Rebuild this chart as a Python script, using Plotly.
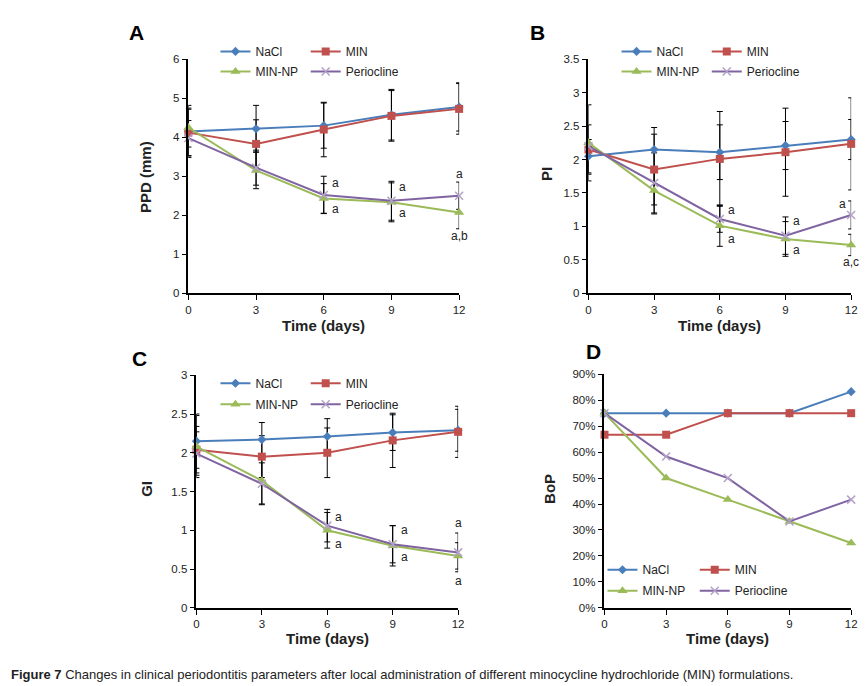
import plotly.graph_objects as go

W, H = 868, 686

days = [0, 3, 6, 9, 12]
series_names = ["NaCl", "MIN", "MIN-NP", "Periocline"]

# Panel A: PPD (mm)
ppd_nacl = [4.15, 4.22, 4.30, 4.58, 4.78]
ppd_min = [4.12, 3.83, 4.20, 4.55, 4.73]
ppd_minnp = [4.25, 3.15, 2.43, 2.33, 2.07]
ppd_perio = [3.98, 3.22, 2.52, 2.37, 2.50]
ppd_nacl_err = [0.67, 0.60, 0.58, 0.65, 0.62]
ppd_min_err = [0.60, 0.62, 0.70, 0.65, 0.65]
ppd_minnp_err = [0.50, 0.47, 0.38, 0.50, 0.42]
ppd_perio_err = [0.45, 0.45, 0.48, 0.50, 0.35]

# Panel B: PI
pi_nacl = [2.05, 2.15, 2.11, 2.21, 2.30]
pi_min = [2.15, 1.85, 2.01, 2.11, 2.235]
pi_minnp = [2.25, 1.535, 1.01, 0.81, 0.72]
pi_perio = [2.20, 1.65, 1.11, 0.86, 1.17]
pi_nacl_err = [0.25, 0.33, 0.41, 0.36, 0.30]
pi_min_err = [0.37, 0.53, 0.71, 0.66, 0.69]
pi_minnp_err = [0.57, 0.35, 0.31, 0.26, 0.16]
pi_perio_err = [0.10, 0.45, 0.20, 0.28, 0.21]

# Panel C: GI
gi_nacl = [2.15, 2.17, 2.21, 2.26, 2.29]
gi_min = [2.04, 1.95, 2.00, 2.16, 2.27]
gi_minnp = [2.08, 1.64, 1.00, 0.80, 0.67]
gi_perio = [1.99, 1.60, 1.06, 0.82, 0.715]
gi_nacl_err = [0.35, 0.22, 0.23, 0.23, 0.27]
gi_min_err = [0.30, 0.27, 0.32, 0.35, 0.33]
gi_minnp_err = [0.40, 0.30, 0.23, 0.26, 0.17]
gi_perio_err = [0.28, 0.27, 0.21, 0.24, 0.25]

# Panel D: BoP (%)
bop_nacl = [75.0, 75.0, 75.0, 75.0, 83.3]
bop_min = [66.7, 66.7, 75.0, 75.0, 75.0]
bop_minnp = [75.0, 50.0, 41.7, 33.3, 25.0]
bop_perio = [75.0, 58.3, 50.0, 33.3, 41.7]

# Significance letters (day, value, text, anchor)
sig_a = [(6, 2.83, "a", "left"), (6, 2.15, "a", "left"), (9, 2.73, "a", "left"),
         (9, 2.05, "a", "left"), (12, 3.06, "a", "center"), (12, 1.46, "a,b", "center")]
sig_b = [(6, 1.25, "a", "left"), (6, 0.81, "a", "left"), (9, 1.085, "a", "left"),
         (9, 0.645, "a", "left"), (12, 1.335, "a", "right"), (12, 0.46, "a,c", "center")]
sig_c = [(6, 1.17, "a", "left"), (6, 0.82, "a", "left"), (9, 1.00, "a", "left"),
         (9, 0.65, "a", "left"), (12, 1.10, "a", "center"), (12, 0.34, "a", "center")]

colors = {"NaCl": "#4A7EBB", "MIN": "#C0504D", "MIN-NP": "#9BBB59", "Periocline": "#8064A2"}
markers = {
    "NaCl": dict(symbol="diamond", size=7, color="#4A7EBB"),
    "MIN": dict(symbol="square", size=8, color="#C0504D"),
    "MIN-NP": dict(symbol="triangle-up", size=9, color="#9BBB59"),
    "Periocline": dict(symbol="x-thin", size=8, color="#B3A2C7",
                       line=dict(width=1.5, color="#B3A2C7")),
}

FONT = "Liberation Sans, Arial, sans-serif"

# the rendered page is shown slightly scaled; map target pixels to figure pixels
SX, BX = 0.987, 4.1
SY, BY = 0.980, 7.7

def px2x(p):
    return ((p - BX) / SX) / W

def px2y(p):
    return 1 - ((p - BY) / SY) / H

panels = [
    dict(key="", xdom=(189, 459), ydom=(61, 294), yr=[0, 6], dtick=1,
         data=[ppd_nacl, ppd_min, ppd_minnp, ppd_perio],
         err=[ppd_nacl_err, ppd_min_err, ppd_minnp_err, ppd_perio_err],
         sig=sig_a, ytitle="PPD (mm)", ytitle_pos=(146, 178), xtitle_y=326,
         letter="A", letter_pos=(137, 34),
         leg_text_x=(256, 346), leg_y=(53, 73), suffix=""),
    dict(key="2", xdom=(588, 850), ydom=(61, 294), yr=[0, 3.5], dtick=0.5,
         data=[pi_nacl, pi_min, pi_minnp, pi_perio],
         err=[pi_nacl_err, pi_min_err, pi_minnp_err, pi_perio_err],
         sig=sig_b, ytitle="PI", ytitle_pos=(546, 175), xtitle_y=326,
         letter="B", letter_pos=(537, 34),
         leg_text_x=(656, 746), leg_y=(53, 73), suffix=""),
    dict(key="3", xdom=(197, 458), ydom=(376, 608), yr=[0, 3], dtick=0.5,
         data=[gi_nacl, gi_min, gi_minnp, gi_perio],
         err=[gi_nacl_err, gi_min_err, gi_minnp_err, gi_perio_err],
         sig=sig_c, ytitle="GI", ytitle_pos=(147, 489), xtitle_y=639,
         letter="C", letter_pos=(140, 359),
         leg_text_x=(256, 346), leg_y=(384, 405), suffix=""),
    dict(key="4", xdom=(604, 850), ydom=(375, 608), yr=[0, 90], dtick=10,
         data=[bop_nacl, bop_min, bop_minnp, bop_perio],
         err=None, sig=[], ytitle="BoP", ytitle_pos=(549, 489), xtitle_y=639,
         letter="D", letter_pos=(593, 352),
         leg_text_x=(642, 734), leg_y=(570, 591), suffix="%"),
]

fig = go.Figure()
annotations = []
layout = {}
legend_count = 0

for p in panels:
    k = p["key"]
    xa, ya = "x" + k, "y" + k
    if p["err"] is not None:
        for i, name in enumerate(series_names):
            fig.add_trace(go.Scatter(
                x=days, y=p["data"][i], mode="markers",
                marker=dict(size=1, color="rgba(0,0,0,0)"),
                error_y=dict(type="data", array=p["err"][i], visible=True,
                             color="#000000", thickness=1, width=3),
                xaxis=xa, yaxis=ya, showlegend=False, hoverinfo="skip",
            ))
    for i, name in enumerate(series_names):
        legend_count += 1
        lname = "legend" if legend_count == 1 else f"legend{legend_count}"
        row = 0 if i < 2 else 1
        col = i % 2
        fig.add_trace(go.Scatter(
            x=days, y=p["data"][i], mode="lines+markers", name=name,
            line=dict(color=colors[name], width=2),
            marker=markers[name], xaxis=xa, yaxis=ya, cliponaxis=False,
            legend=lname, showlegend=True,
        ))
        layout[lname] = dict(
            x=px2x(p["leg_text_x"][col] - 40), y=px2y(p["leg_y"][row]),
            xanchor="left", yanchor="middle", orientation="v",
            bgcolor="rgba(0,0,0,0)", borderwidth=0,
            font=dict(family=FONT, size=12, color="#222"),
            tracegroupgap=0, itemclick=False,
        )
    axname_x = "xaxis" + k
    axname_y = "yaxis" + k
    layout[axname_x] = dict(
        domain=[px2x(p["xdom"][0]), px2x(p["xdom"][1])], range=[0, 12],
        tickmode="array", tickvals=days, ticktext=[str(d) for d in days],
        showline=True, linecolor="#000", linewidth=1.5, ticks="outside",
        ticklen=5, tickcolor="#000", showgrid=False, zeroline=False,
        anchor=ya, tickfont=dict(family=FONT, size=11.5, color="#222"),
        fixedrange=True,
    )
    layout[axname_y] = dict(
        domain=[px2y(p["ydom"][1]), px2y(p["ydom"][0])], range=p["yr"],
        dtick=p["dtick"], tick0=0, showline=True, linecolor="#000", linewidth=1.5,
        ticks="outside", ticklen=5, tickcolor="#000", showgrid=False,
        zeroline=False, anchor=xa, ticksuffix=p["suffix"],
        tickfont=dict(family=FONT, size=11.5, color="#222"), fixedrange=True,
    )
    for (d, v, t, anc) in p["sig"]:
        shift = 6 if anc == "left" else (-3 if anc == "right" else 0)
        annotations.append(dict(
            x=d, y=v, xref=xa, yref=ya, text=t, showarrow=False,
            xanchor=anc, yanchor="middle", xshift=shift,
            font=dict(family=FONT, size=12, color="#222"),
        ))
    xc = (p["xdom"][0] + p["xdom"][1]) / 2
    annotations.append(dict(
        x=px2x(xc), y=px2y(p["xtitle_y"]), xref="paper", yref="paper",
        text="<b>Time (days)</b>", showarrow=False, xanchor="center", yanchor="middle",
        font=dict(family=FONT, size=15, color="#222"),
    ))
    annotations.append(dict(
        x=px2x(p["ytitle_pos"][0]), y=px2y(p["ytitle_pos"][1]), xref="paper", yref="paper",
        text="<b>" + p["ytitle"] + "</b>", showarrow=False, textangle=-90,
        xanchor="center", yanchor="middle",
        font=dict(family=FONT, size=15, color="#222"),
    ))
    annotations.append(dict(
        x=px2x(p["letter_pos"][0]), y=px2y(p["letter_pos"][1]), xref="paper", yref="paper",
        text="<b>" + p["letter"] + "</b>", showarrow=False,
        xanchor="center", yanchor="middle",
        font=dict(family=FONT, size=21, color="#000"),
    ))

annotations.append(dict(
    x=px2x(10), y=px2y(674), xref="paper", yref="paper",
    text="<b>Figure 7</b> Changes in clinical periodontitis parameters after local administration of different minocycline hydrochloride (MIN) formulations.",
    showarrow=False, xanchor="left", yanchor="middle",
    font=dict(family="Liberation Sans Narrow, Arial Narrow, sans-serif", size=13, color="#222"),
))

fig.update_layout(
    width=W, height=H, margin=dict(l=0, r=0, t=0, b=0),
    paper_bgcolor="white", plot_bgcolor="white",
    annotations=annotations, **layout,
)

fig.write_html(
    "out.html",
    config={"displayModeBar": False},
    post_script="document.body.style.margin='0px';document.body.style.overflow='hidden';",
)
